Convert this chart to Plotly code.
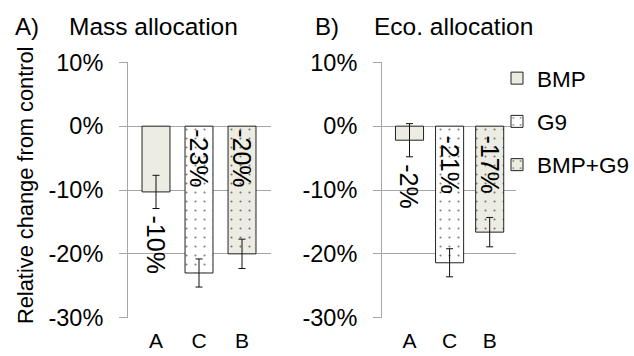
import plotly.graph_objects as go

# ---------------- data ----------------
categories = ["A", "C", "B"]
series_names = ["BMP", "G9", "BMP+G9"]
mass_values = [-10.3, -23.0, -20.0]
mass_errors = [2.6, 2.2, 2.3]
eco_values = [-2.2, -21.4, -16.6]
eco_errors = [2.6, 2.2, 2.3]
mass_labels = ["-10%", "-23%", "-20%"]
eco_labels = ["-2%", "-21%", "-17%"]
y_ticks = [10, 0, -10, -20, -30]
y_tick_labels = ["10%", "0%", "-10%", "-20%", "-30%"]
panel_titles = ["Mass allocation", "Eco. allocation"]
panel_letters = ["A)", "B)"]
y_title = "Relative change from control"

# ---------------- style ----------------
W, H = 634, 356
FONT = "Arial, 'Liberation Sans', Helvetica, sans-serif"
fills = ["#ECECE2", "#FFFFFF", "#ECECE2"]
shapes_pat = ["", ".", "."]
label_inside = [False, True, True]
GRID = "#A6A6A6"


def px_x(p):
    return p / W


def px_y(p):
    return 1 - p / H


fig = go.Figure()

panels = [
    dict(values=mass_values, errors=mass_errors, labels=mass_labels,
         xa="x", ya="y", width=0.65, showlegend=False, inshift=-1),
    dict(values=eco_values, errors=eco_errors, labels=eco_labels,
         xa="x2", ya="y2", width=0.70, showlegend=True, inshift=-7),
]

annotations = []
for p in panels:
    for i, cat in enumerate(categories):
        fig.add_trace(go.Bar(
            x=[cat], y=[p["values"][i]],
            name=series_names[i],
            legendgroup=series_names[i],
            showlegend=p["showlegend"],
            width=p["width"],
            xaxis=p["xa"], yaxis=p["ya"],
            marker=dict(
                color=fills[i],
                line=dict(color="#222222", width=1),
                pattern=dict(shape=shapes_pat[i], size=9, solidity=0.045,
                             fgcolor="#000000", bgcolor=fills[i]),
            ),
            error_y=dict(type="data", array=[p["errors"][i]], visible=True,
                         color="#111111", thickness=1, width=3.5),
        ))
        if label_inside[i]:
            ay, ysh = 0, p["inshift"]
        else:
            ay, ysh = p["values"][i] - p["errors"][i], -5
        annotations.append(dict(
            x=cat, y=ay, xref=p["xa"], yref=p["ya"],
            text=p["labels"][i], showarrow=False, textangle=90,
            xanchor="center", yanchor="top", yshift=ysh,
            font=dict(family=FONT, size=25, color="black"),
        ))

# panel titles
for letter, title, lx, tx in zip(panel_letters, panel_titles, [13, 313], [67, 372]):
    annotations.append(dict(x=px_x(lx), y=px_y(26.5), xref="paper", yref="paper",
                            text=letter, showarrow=False, xanchor="left", yanchor="middle",
                            font=dict(family=FONT, size=24, color="black")))
    annotations.append(dict(x=px_x(tx), y=px_y(26.5), xref="paper", yref="paper",
                            text=title, showarrow=False, xanchor="left", yanchor="middle",
                            font=dict(family=FONT, size=24.5, color="black")))

# y axis title
annotations.append(dict(x=px_x(25), y=px_y(186), xref="paper", yref="paper",
                        text=y_title, showarrow=False, textangle=-90,
                        xanchor="center", yanchor="middle",
                        font=dict(family=FONT, size=21.8, color="black")))

yaxis_common = dict(
    range=[-30.05, 10.05], tickvals=y_ticks, ticktext=y_tick_labels,
    showgrid=True, gridcolor=GRID, gridwidth=1,
    zeroline=False, showline=True, linecolor=GRID, linewidth=1,
    ticks="outside", ticklen=8, tickcolor=GRID, tickwidth=1,
    ticklabelstandoff=11, automargin=False,
    tickfont=dict(family=FONT, size=23.5, color="black"),
    domain=[px_y(318), px_y(62)],
)
xaxis_common = dict(
    type="category", categoryorder="array", categoryarray=categories,
    showgrid=False, zeroline=False, showline=False, ticks="",
    ticklabelstandoff=8, automargin=False,
    tickfont=dict(family=FONT, size=21, color="black"),
)

fig.update_layout(
    width=W, height=H,
    margin=dict(l=0, r=0, t=0, b=0, autoexpand=False),
    paper_bgcolor="white", plot_bgcolor="white",
    barmode="overlay",
    xaxis=dict(xaxis_common, domain=[px_x(128), px_x(271)], range=[-0.651, 2.674], anchor="y"),
    yaxis=dict(yaxis_common, anchor="x"),
    xaxis2=dict(xaxis_common, domain=[px_x(382), px_x(516)], range=[-0.686, 2.656], anchor="y2"),
    yaxis2=dict(yaxis_common, anchor="x2"),
    legend=dict(x=px_x(497), y=px_y(57), xanchor="left", yanchor="top",
                font=dict(family=FONT, size=22.5, color="black"),
                tracegroupgap=11, bgcolor="rgba(0,0,0,0)",
                traceorder="grouped"),
    annotations=annotations,
    showlegend=True,
)

fig.write_html("out.html")
